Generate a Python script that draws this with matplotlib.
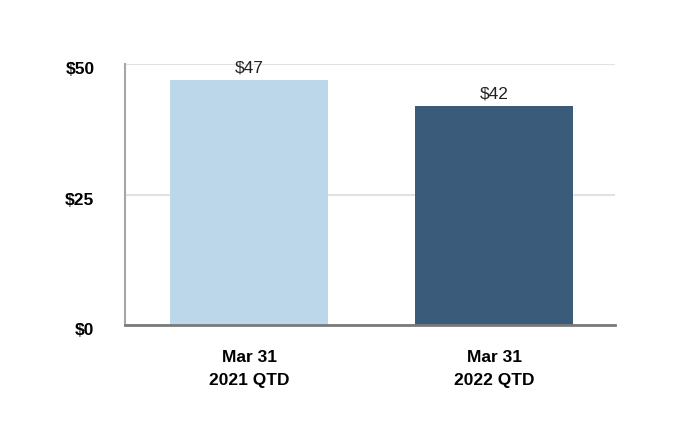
import matplotlib.pyplot as plt
from matplotlib.transforms import ScaledTranslation

categories = ["Mar 31\n2021 QTD", "Mar 31\n2022 QTD"]
values = [47, 42]
colors = ["#BDD7EA", "#3B5B7A"]
yticks = [0, 25, 50]
ytick_labels = ["$0", "$25", "$50"]

plt.rcParams['font.family'] = ['Liberation Sans', 'DejaVu Sans']

fig = plt.figure(figsize=(6.8, 4.48), dpi=100)
ax = fig.add_axes([0.1838, 0.2746, 0.7206, 0.5824])

x = range(len(values))
bars = ax.bar(x, values, width=0.645, color=colors, zorder=3)

for b, v in zip(bars, values):
    ax.annotate("$%d" % v, (b.get_x() + b.get_width() / 2, v),
                xytext=(0, 3), textcoords="offset points",
                ha="center", va="bottom", fontsize=12.5, color="#222222")

ax.set_xlim(-0.508, 1.492)
ax.set_ylim(0, 50)
ax.set_yticks(yticks)
ax.set_yticklabels(ytick_labels, fontsize=12.5, fontweight="bold")
ax.set_xticks(list(x))
ax.set_xticklabels(categories, fontsize=12.5, fontweight="bold", linespacing=1.7)
ax.tick_params(axis="y", length=0, pad=22)
ax.tick_params(axis="x", length=0, pad=18)

# y labels sit a little below the gridlines in the original
shift = ScaledTranslation(0, -3 / 72, fig.dpi_scale_trans)
for lab in ax.get_yticklabels():
    lab.set_transform(lab.get_transform() + shift)

ax.grid(axis="y", color="#E2E2E2", linewidth=1.5, zorder=0)
ax.spines["top"].set_visible(False)
ax.spines["right"].set_visible(False)
ax.spines["left"].set_color("#A6A6A6")
ax.spines["left"].set_linewidth(1.5)
ax.spines["bottom"].set_color("#7A7A7A")
ax.spines["bottom"].set_linewidth(2)
ax.spines["left"].set_zorder(4)
ax.spines["bottom"].set_zorder(4)

fig.savefig("out.png", dpi=100)
